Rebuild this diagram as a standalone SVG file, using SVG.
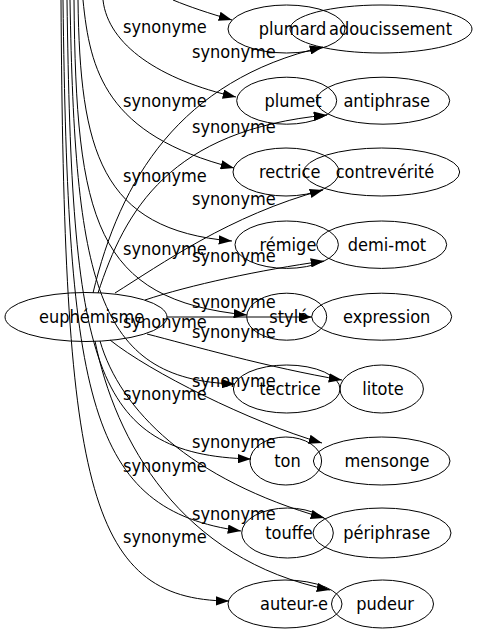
<svg xmlns="http://www.w3.org/2000/svg" width="478" height="635" viewBox="0 0 478 635">
<style>
text{font-family:"DejaVu Sans Condensed","DejaVu Sans",sans-serif;font-stretch:condensed;font-size:18px;fill:#000}
.n text{text-anchor:middle}
.n ellipse{fill:none;stroke:#000;stroke-width:1}
.e path{fill:none;stroke:#000;stroke-width:1;marker-end:url(#ah)}
.e text{text-anchor:start}
</style>
<defs>
<marker id="ah" markerUnits="userSpaceOnUse" viewBox="0 0 13.3 9.4" markerWidth="13.3" markerHeight="9.4" refX="13.3" refY="4.7" orient="auto">
<path d="M0,0 L13.3,4.7 L0,9.4 z" fill="#000"/>
</marker>
</defs>
<rect width="478" height="635" fill="#fff"/>
<g id="edges" class="e">
<g id="e-plumard"><path d="M173,0 C190,7 208,13 232,20"/></g>
<g id="e-plumet"><path d="M103,0 C108,45 160,80 236,97"/><text x="123" y="33">synonyme</text></g>
<g id="e-rectrice"><path d="M83,0 C90,70 105,135 234,168"/><text x="123" y="107">synonyme</text></g>
<g id="e-remige"><path d="M78,0 C80,150 100,230 232,241"/><text x="123" y="182">synonyme</text></g>
<g id="e-style"><path d="M74,0 C76,220 95,300 247,315"/><text x="123" y="255">synonyme</text></g>
<g id="e-tectrice"><path d="M70,0 C75,280 95,380 235,384"/><text x="123" y="328">synonyme</text></g>
<g id="e-ton"><path d="M67,0 C72,360 90,455 251,459"/><text x="123" y="400">synonyme</text></g>
<g id="e-touffe"><path d="M63,0 C68,400 88,510 241,531"/><text x="123" y="472">synonyme</text></g>
<g id="e-auteur"><path d="M61,0 C64,480 85,600 229,601"/><text x="123" y="543">synonyme</text></g>
<g id="e-adoucissement"><path d="M93,293 C120,180 180,80 323,47"/><text x="192" y="58">synonyme</text></g>
<g id="e-antiphrase"><path d="M98,293 C125,210 170,130 327,115"/><text x="192" y="133">synonyme</text></g>
<g id="e-contreverite"><path d="M115,293 C160,265 230,215 323,190"/><text x="192" y="205">synonyme</text></g>
<g id="e-demimot"><path d="M145,300 C190,285 260,270 324,261"/><text x="192" y="262">synonyme</text></g>
<g id="e-expression"><path d="M167,317 L312,317"/><text x="192" y="308">synonyme</text></g>
<g id="e-litote"><path d="M147,334 C190,345 270,368 342,380"/><text x="192" y="338">synonyme</text></g>
<g id="e-mensonge"><path d="M110,340 C150,372 250,422 322,443"/><text x="192" y="387">synonyme</text></g>
<g id="e-periphrase"><path d="M100,341 C120,410 190,480 324,518"/><text x="192" y="448">synonyme</text></g>
<g id="e-pudeur"><path d="M95,341 C115,440 180,560 330,590"/><text x="192" y="520">synonyme</text></g>
</g>
<g id="n-euphemisme" class="n"><ellipse cx="86" cy="317" rx="81" ry="24.5"/><text x="91.7" y="323">euphémisme</text></g>
<g id="n-plumard" class="n"><ellipse cx="286.5" cy="29" rx="58.5" ry="24"/><text x="292.5" y="35">plumard</text></g>
<g id="n-adoucissement" class="n"><ellipse cx="381" cy="29" rx="91" ry="24"/><text x="390.5" y="35">adoucissement</text></g>
<g id="n-plumet" class="n"><ellipse cx="286.7" cy="100.7" rx="50" ry="23.5"/><text x="293" y="107">plumet</text></g>
<g id="n-antiphrase" class="n"><ellipse cx="383" cy="100.7" rx="66.7" ry="23.5"/><text x="386.7" y="107">antiphrase</text></g>
<g id="n-rectrice" class="n"><ellipse cx="286" cy="172" rx="53" ry="24"/><text x="289.7" y="178">rectrice</text></g>
<g id="n-contreverite" class="n"><ellipse cx="381.7" cy="172" rx="78" ry="24"/><text x="385" y="178">contrevérité</text></g>
<g id="n-remige" class="n"><ellipse cx="286.7" cy="244.7" rx="51.7" ry="23.7"/><text x="288" y="251">rémige</text></g>
<g id="n-demimot" class="n"><ellipse cx="381.7" cy="244.7" rx="65" ry="23.7"/><text x="387" y="251">demi-mot</text></g>
<g id="n-style" class="n"><ellipse cx="286.7" cy="316.7" rx="40" ry="23.5"/><text x="288.7" y="323">stylé</text></g>
<g id="n-expression" class="n"><ellipse cx="381.7" cy="316.7" rx="70" ry="23.5"/><text x="386.7" y="323">expression</text></g>
<g id="n-tectrice" class="n"><ellipse cx="286.7" cy="389" rx="53.3" ry="24"/><text x="290" y="395">tectrice</text></g>
<g id="n-litote" class="n"><ellipse cx="381.7" cy="389" rx="41.7" ry="24"/><text x="383" y="395">litote</text></g>
<g id="n-ton" class="n"><ellipse cx="285.8" cy="461" rx="35.8" ry="24"/><text x="287.5" y="467">ton</text></g>
<g id="n-mensonge" class="n"><ellipse cx="381.7" cy="461" rx="68.3" ry="24"/><text x="387" y="467">mensonge</text></g>
<g id="n-touffe" class="n"><ellipse cx="287.5" cy="533" rx="45.8" ry="25"/><text x="289" y="539">touffe</text></g>
<g id="n-periphrase" class="n"><ellipse cx="382" cy="533" rx="69" ry="25"/><text x="386.7" y="539">périphrase</text></g>
<g id="n-auteur" class="n"><ellipse cx="285" cy="604" rx="57" ry="24"/><text x="294" y="610">auteur-e</text></g>
<g id="n-pudeur" class="n"><ellipse cx="382.5" cy="604" rx="51" ry="24"/><text x="385" y="610">pudeur</text></g>
</svg>
